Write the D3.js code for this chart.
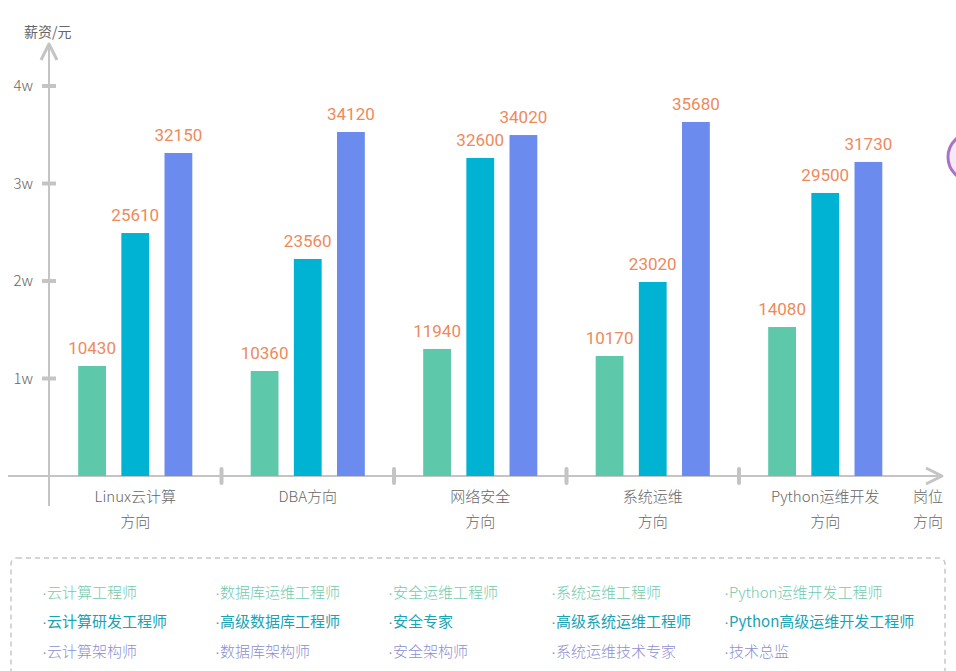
<!DOCTYPE html>
<html><head><meta charset="utf-8">
<script src="https://cdn.jsdelivr.net/npm/d3@7"></script>
<style>
html,body{margin:0;padding:0;background:#fff;}
svg{display:block;font-family:"Noto Sans CJK SC","Noto Sans",sans-serif;}
</style></head>
<body><svg id="chart" width="956" height="671"></svg>
<script>
// ---- data ----
const categories = ["Linux云计算", "DBA方向", "网络安全", "系统运维", "Python运维开发"];
const categoryLine2 = ["方向", "", "方向", "方向", "方向"];
const seriesNames = ["初级", "中级", "高级"];
// salary labels printed above bars
const juniorSalary = [10430, 10360, 11940, 10170, 14080];
const middleSalary = [25610, 23560, 32600, 23020, 29500];
const seniorSalary = [32150, 34120, 34020, 35680, 31730];
// bar heights as drawn in the picture
const juniorHeight = [11280, 10770, 13030, 12310, 15280];
const middleHeight = [24920, 22260, 32620, 19900, 29030];
const seniorHeight = [33130, 35280, 34970, 36310, 32210];
const yTicks = [10000, 20000, 30000, 40000];
const yTickLabels = ["1w", "2w", "3w", "4w"];
const legendRows = [
  ["云计算工程师", "数据库运维工程师", "安全运维工程师", "系统运维工程师", "Python运维开发工程师"],
  ["云计算研发工程师", "高级数据库工程师", "安全专家", "高级系统运维工程师", "Python高级运维开发工程师"],
  ["云计算架构师", "数据库架构师", "安全架构师", "系统运维技术专家", "技术总监"]
];
const barColors = ["#5ec8ab", "#00b3d3", "#6b8bee"];
const legendColors = ["#72c9ad", "#1aa3b3", "#8e8fd0"];

const svg = d3.select("#chart");
const axisColor = "#c4c4c4";
const textColor = "#666";

const x0 = d3.scaleBand().domain(categories).range([49, 911.5]).padding(0);
const x1 = d3.scaleBand().domain(seriesNames).range([21.5, 151]).paddingInner(0.356).paddingOuter(0.178);
const y = d3.scaleLinear().domain([0, 40000]).range([476, 86]);

const heights = [juniorHeight, middleHeight, seniorHeight];
const labels = [juniorSalary, middleSalary, seniorSalary];

// decorative purple circle at right edge
svg.append("circle").attr("cx", 972).attr("cy", 157).attr("r", 24)
  .attr("fill", "#f3e9f7").attr("stroke", "#a873c4").attr("stroke-width", 3);

// x axis line with arrow
svg.append("line").attr("x1", 8).attr("x2", 938).attr("y1", y(0)).attr("y2", y(0))
  .attr("stroke", axisColor).attr("stroke-width", 2);
svg.append("path").attr("d", `M926,${y(0)-8} L942,${y(0)} L926,${y(0)+8}`)
  .attr("fill", "none").attr("stroke", axisColor).attr("stroke-width", 3).attr("stroke-linejoin","round");

// y axis line with arrow
svg.append("line").attr("x1", 49).attr("x2", 49).attr("y1", 46).attr("y2", 506)
  .attr("stroke", axisColor).attr("stroke-width", 2);
svg.append("path").attr("d", `M41,60 L49,44 L57,60`)
  .attr("fill", "none").attr("stroke", axisColor).attr("stroke-width", 3).attr("stroke-linejoin","round");

// y ticks
const yt = svg.append("g");
yTicks.forEach((t, i) => {
  yt.append("line").attr("x1", 42).attr("x2", 56).attr("y1", y(t)).attr("y2", y(t))
    .attr("stroke", axisColor).attr("stroke-width", 4);
  yt.append("text").attr("x", 33).attr("y", y(t)).attr("dy", "0.35em")
    .attr("text-anchor", "end").attr("fill", textColor).attr("font-size", 15)
    .attr("font-weight", 300)
    .text(yTickLabels[i]);
});
svg.append("text").attr("x", 24).attr("y", 37).attr("fill", textColor).attr("font-size", 14).text("薪资/元");

// group separators
categories.slice(1).forEach(c => {
  svg.append("line").attr("x1", x0(c)).attr("x2", x0(c)).attr("y1", y(0) - 7).attr("y2", y(0) + 7)
    .attr("stroke", axisColor).attr("stroke-width", 4).attr("stroke-linecap", "round");
});

// bars and labels
const groups = svg.append("g").selectAll("g").data(categories).join("g")
  .attr("transform", c => `translate(${x0(c)},0)`);
seriesNames.forEach((s, si) => {
  groups.append("rect")
    .attr("x", x1(s)).attr("width", x1.bandwidth())
    .attr("y", (c, ci) => y(heights[si][ci]))
    .attr("height", (c, ci) => y(0) - y(heights[si][ci]))
    .attr("fill", barColors[si]);
  groups.append("text")
    .attr("x", x1(s) + x1.bandwidth() / 2)
    .attr("y", (c, ci) => y(heights[si][ci]) - 12)
    .attr("text-anchor", "middle").attr("fill", "#ee8a5c").attr("font-size", 17)
    .attr("font-family", "Roboto, 'Noto Sans', sans-serif")
    .text((c, ci) => labels[si][ci]);
});

// category labels
categories.forEach((c, i) => {
  const cx = x0(c) + x0.bandwidth() / 2;
  svg.append("text").attr("x", cx).attr("y", 502).attr("text-anchor", "middle")
    .attr("fill", textColor).attr("font-size", 15).attr("font-weight", 300).text(c);
  if (categoryLine2[i]) svg.append("text").attr("x", cx).attr("y", 527).attr("text-anchor", "middle")
    .attr("fill", textColor).attr("font-size", 15).attr("font-weight", 300).text(categoryLine2[i]);
});
svg.append("text").attr("x", 928).attr("y", 502).attr("text-anchor", "middle")
  .attr("fill", textColor).attr("font-size", 15).attr("font-weight", 300).text("岗位");
svg.append("text").attr("x", 928).attr("y", 527).attr("text-anchor", "middle")
  .attr("fill", textColor).attr("font-size", 15).attr("font-weight", 300).text("方向");

// legend box
svg.append("rect").attr("x", 11).attr("y", 558).attr("width", 934).attr("height", 130).attr("rx", 6)
  .attr("fill", "none").attr("stroke", "#c8c8c8").attr("stroke-width", 1.5).attr("stroke-dasharray", "5,4");
const colX = [42, 215, 388, 551, 724];
const rowY = [593, 622, 652];
legendRows.forEach((row, ri) => {
  row.forEach((t, ci) => {
    const tx = svg.append("text").attr("x", colX[ci]).attr("y", rowY[ri]).attr("dy", "0.35em")
      .attr("fill", legendColors[ri]).attr("font-size", 15).attr("font-weight", ri === 1 ? 400 : 300);
    tx.append("tspan").attr("font-family", "'Liberation Sans', sans-serif").text("·");
    tx.append("tspan").text(t);
  });
});
</script></body></html>
